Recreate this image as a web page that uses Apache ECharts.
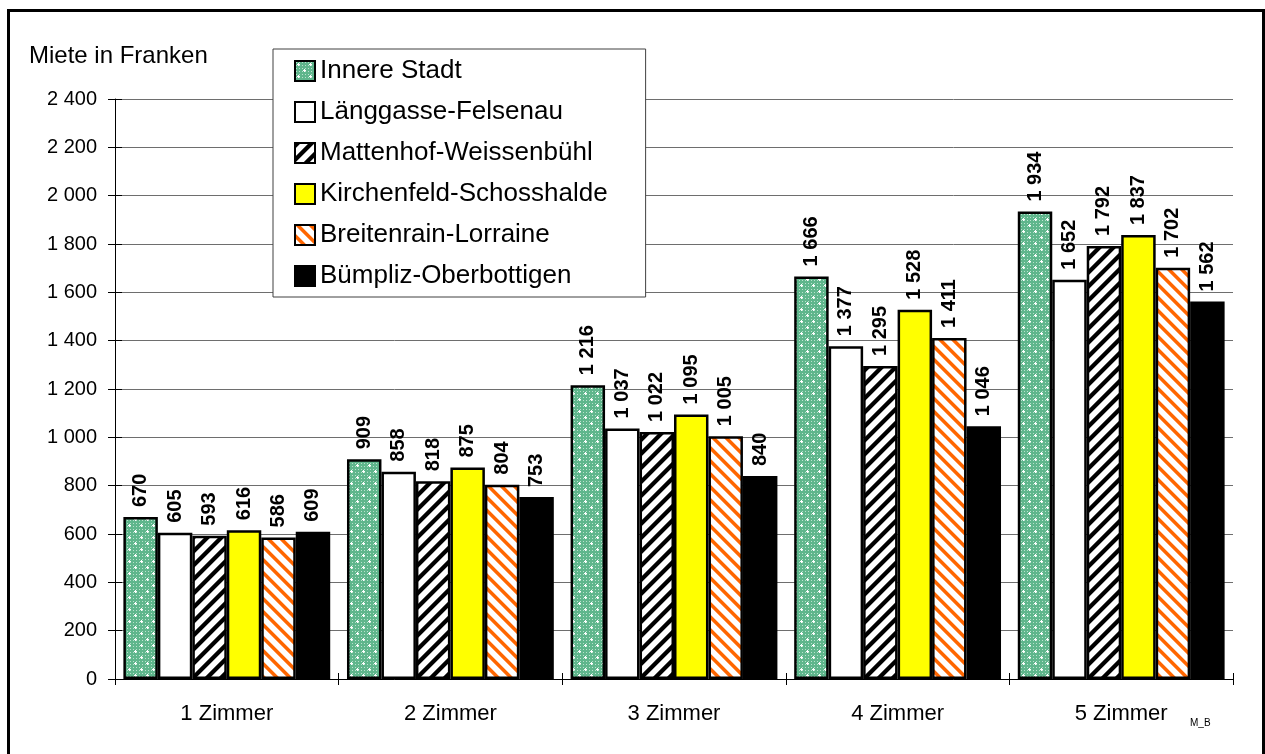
<!DOCTYPE html>
<html>
<head>
<meta charset="utf-8">
<script src="https://cdn.jsdelivr.net/npm/echarts/dist/echarts.min.js"></script>
<style>
  html, body { margin: 0; padding: 0; background: #fff; }
  #chart { width: 1265px; height: 754px; }
</style>
</head>
<body>
<div id="chart"></div>
<script>
// Mittlere Mietpreise nach Zimmerzahl und Stadtteil
const categories = ['1 Zimmer', '2 Zimmer', '3 Zimmer', '4 Zimmer', '5 Zimmer'];
const seriesNames = [
  'Innere Stadt',
  'Länggasse-Felsenau',
  'Mattenhof-Weissenbühl',
  'Kirchenfeld-Schosshalde',
  'Breitenrain-Lorraine',
  'Bümpliz-Oberbottigen'
];
const innereStadt = [670, 909, 1216, 1666, 1934];
const laenggasse = [605, 858, 1037, 1377, 1652];
const mattenhof = [593, 818, 1022, 1295, 1792];
const kirchenfeld = [616, 875, 1095, 1528, 1837];
const breitenrain = [586, 804, 1005, 1411, 1702];
const buempliz = [609, 753, 840, 1046, 1562];
const yMin = 0, yMax = 2400, yStep = 200;

const FONT = '"Liberation Sans", Arial, sans-serif';

// Zahlen mit Leerzeichen als Tausendertrennzeichen
function fmt(v) {
  v = Math.round(v);
  if (v < 1000) return String(v);
  const t = Math.floor(v / 1000), r = v % 1000;
  return t + ' ' + String(r).padStart(3, '0');
}

function hexRgb(h) {
  h = h.replace('#', '');
  return [parseInt(h.substr(0, 2), 16), parseInt(h.substr(2, 2), 16), parseInt(h.substr(4, 2), 16)];
}

// Diagonal schraffierte Kachel (dir > 0: "/", dir < 0: "\")
function stripeTile(P, w, fg, bg, dir) {
  const c = document.createElement('canvas');
  c.width = c.height = P;
  const ctx = c.getContext('2d');
  const img = ctx.createImageData(P, P);
  const f = hexRgb(fg), b = hexRgb(bg);
  for (let y = 0; y < P; y++) {
    for (let x = 0; x < P; x++) {
      let cov = 0;
      for (let sy = 0; sy < 4; sy++) {
        for (let sx = 0; sx < 4; sx++) {
          const px = x + (sx + 0.5) / 4, py = y + (sy + 0.5) / 4;
          let d = dir > 0 ? px + py : px - py;
          d = ((d % P) + P) % P;
          if (d < w) cov++;
        }
      }
      cov /= 16;
      const i = (y * P + x) * 4;
      for (let k = 0; k < 3; k++) img.data[i + k] = Math.round(f[k] * cov + b[k] * (1 - cov));
      img.data[i + 3] = 255;
    }
  }
  ctx.putImageData(img, 0, 0);
  return c;
}

// Grüne Punktraster-Kachel mit hellen Sternchen
function dotTile() {
  const P = 12;
  const c = document.createElement('canvas');
  c.width = c.height = P;
  const ctx = c.getContext('2d');
  ctx.fillStyle = '#5fb68c';
  ctx.fillRect(0, 0, P, P);
  ctx.fillStyle = '#b9e1cd';
  for (let y = 0; y < P; y += 3) {
    for (let x = 0; x < P; x += 3) {
      ctx.fillRect(x + 1, y + 1, 1, 1);
    }
  }
  ctx.fillStyle = '#ffffff';
  const star = (cx, cy) => {
    ctx.fillRect(cx - 1, cy, 3, 1);
    ctx.fillRect(cx, cy - 1, 1, 3);
  };
  star(3, 3);
  star(9, 9);
  return c;
}

const fills = [
  { image: dotTile(), repeat: 'repeat' },
  '#ffffff',
  { image: stripeTile(14, 6, '#000000', '#ffffff', 1), repeat: 'repeat' },
  '#ffff00',
  { image: stripeTile(13, 5, '#ff6600', '#ffffff', -1), repeat: 'repeat' },
  '#000000'
];
const values = [innereStadt, laenggasse, mattenhof, kirchenfeld, breitenrain, buempliz];

const series = seriesNames.map((name, i) => ({
  name: name,
  type: 'bar',
  data: values[i],
  barGap: '0%',
  barCategoryGap: '7.5%',
  itemStyle: { color: fills[i], borderColor: '#000', borderWidth: 2.5 },
  emphasis: { disabled: true },
  label: {
    show: true,
    position: 'top',
    rotate: 90,
    align: 'left',
    verticalAlign: 'middle',
    distance: 10,
    formatter: p => fmt(p.value),
    fontFamily: FONT,
    fontSize: 20,
    fontWeight: 'bold',
    color: '#000'
  }
}));

const gridBox = { left: 115, right: 32, top: 99, bottom: 75 };

const chart = echarts.init(document.getElementById('chart'), null, { renderer: 'canvas' });
chart.setOption({
  backgroundColor: '#fff',
  animation: false,
  grid: [
    Object.assign({}, gridBox),
    Object.assign({}, gridBox)
  ],
  legend: {
    orient: 'vertical',
    left: 273,
    top: 49,
    padding: [9, 38, 8, 21],
    itemWidth: 20,
    itemHeight: 20,
    itemGap: 15,
    icon: 'rect',
    selectedMode: false,
    backgroundColor: '#fff',
    borderColor: '#404040',
    borderWidth: 1,
    textStyle: { fontFamily: FONT, fontSize: 26, lineHeight: 26, color: '#000' },
    data: seriesNames
  },
  xAxis: [
    {
      type: 'category',
      gridIndex: 0,
      data: categories,
      axisLine: { show: true, lineStyle: { color: '#000', width: 1 } },
      axisTick: { show: true, length: 6, lineStyle: { color: '#000' } },
      axisLabel: { margin: 24, fontFamily: FONT, fontSize: 22, color: '#000' },
      splitLine: { show: false }
    },
    {
      type: 'category',
      gridIndex: 1,
      data: categories,
      axisLine: { show: false },
      axisTick: { show: true, inside: true, length: 6, lineStyle: { color: '#000' } },
      axisLabel: { show: false },
      splitLine: { show: false }
    }
  ],
  yAxis: [
    {
      type: 'value',
      gridIndex: 0,
      min: yMin,
      max: yMax,
      interval: yStep,
      axisLine: { show: true, lineStyle: { color: '#000', width: 1 } },
      axisTick: { show: true, length: 7, lineStyle: { color: '#000' } },
      axisLabel: { margin: 18, fontFamily: FONT, fontSize: 20, color: '#000', formatter: v => fmt(v) },
      splitLine: { show: true, lineStyle: { color: '#6e6e6e', width: 1 } }
    },
    {
      type: 'value',
      gridIndex: 1,
      min: yMin,
      max: yMax,
      interval: yStep,
      axisLine: { show: false },
      axisTick: { show: true, inside: true, length: 7, lineStyle: { color: '#000' } },
      axisLabel: { show: false },
      splitLine: { show: false }
    }
  ],
  series: series,
  graphic: [
    {
      type: 'rect',
      silent: true,
      shape: { x: 8.5, y: 10.5, width: 1255, height: 800 },
      style: { fill: 'none', stroke: '#000', lineWidth: 3 }
    },
    {
      type: 'text',
      left: 29,
      top: 44,
      style: { text: 'Miete in Franken', fontFamily: FONT, fontSize: 24, fill: '#000' }
    },
    {
      type: 'text',
      left: 1190,
      top: 718,
      style: { text: 'M_B', fontFamily: FONT, fontSize: 10, fill: '#000' }
    }
  ]
});
</script>
</body>
</html>
